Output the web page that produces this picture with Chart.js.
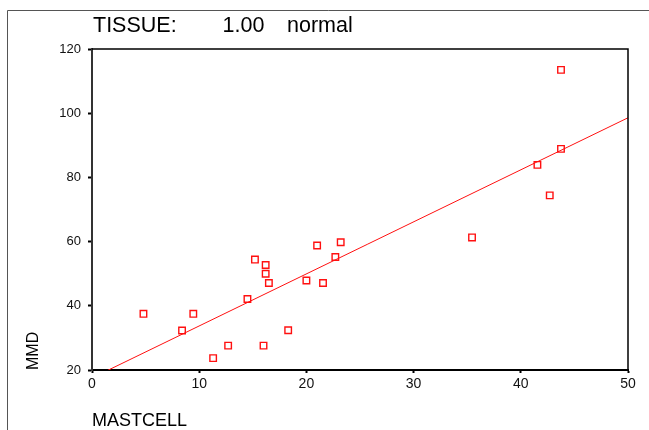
<!DOCTYPE html>
<html>
<head>
<meta charset="utf-8">
<script src="https://cdn.jsdelivr.net/npm/chart.js@4/dist/chart.umd.min.js"></script>
<style>
  html, body { margin: 0; padding: 0; background: #fff; }
  #wrap { position: relative; width: 649px; height: 430px; }
  canvas { display: block; }
</style>
</head>
<body>
<div id="wrap"><canvas id="c" width="649" height="430"></canvas></div>
<script>
// ---- data ----
const mastcell = [4.8, 8.4, 9.45, 11.3, 12.7, 14.5, 15.2, 16.0, 16.2, 16.2, 16.5, 18.3, 20.0, 21.0, 21.55, 22.7, 23.2, 35.45, 41.55, 42.7, 43.75, 43.75];
const mmd      = [37.5, 32.3, 37.5, 23.7, 27.6, 42.1, 54.4, 27.6, 52.7, 50.0, 47.1, 32.4, 47.9, 58.8, 47.1, 55.2, 59.8, 61.3, 83.9, 74.4, 113.5, 88.9];
const xTicks = [0, 10, 20, 30, 40, 50];
const yTicks = [20, 40, 60, 80, 100, 120];
const titleParts = ["TISSUE:", "1.00", "normal"];
const xTitle = "MASTCELL";
const yTitle = "MMD";

// least-squares fit line (as in the reference)
const n = mastcell.length;
const mx = mastcell.reduce((a, b) => a + b, 0) / n;
const my = mmd.reduce((a, b) => a + b, 0) / n;
let sxy = 0, sxx = 0;
for (let i = 0; i < n; i++) { sxy += (mastcell[i] - mx) * (mmd[i] - my); sxx += (mastcell[i] - mx) ** 2; }
const slope = sxy / sxx, intercept = my - slope * mx;
const fitX = [xTicks[0], xTicks[xTicks.length - 1]];
const fitPts = fitX.map(x => ({ x, y: intercept + slope * x }));

const FONT = "'Liberation Sans', Arial, Helvetica, sans-serif";
const RED = '#ff1010';

const decor = {
  id: 'decor',
  beforeDraw(chart) {
    const ctx = chart.ctx;
    ctx.save();
    ctx.strokeStyle = '#555';
    ctx.lineWidth = 1;
    ctx.beginPath();
    ctx.moveTo(7.5, chart.height);
    ctx.lineTo(7.5, 10.5);
    ctx.lineTo(chart.width, 10.5);
    ctx.stroke();
    // title
    ctx.fillStyle = '#000';
    ctx.font = '21.5px ' + FONT;
    ctx.textBaseline = 'alphabetic';
    const xs = [93, 222.5, 287];
    titleParts.forEach((t, i) => ctx.fillText(t, xs[i], 31.5));
    ctx.restore();
  },
  afterDatasetsDraw(chart) {
    const { ctx, chartArea: a } = chart;
    ctx.save();
    ctx.strokeStyle = '#000';
    ctx.lineWidth = 1.5;
    ctx.beginPath();
    ctx.moveTo(a.left, a.top);
    ctx.lineTo(a.right, a.top);
    ctx.lineTo(a.right, a.bottom);
    ctx.stroke();
    ctx.restore();
  }
};

new Chart(document.getElementById('c'), {
  type: 'scatter',
  data: {
    datasets: [
      {
        label: 'MMD',
        data: mastcell.map((x, i) => ({ x, y: mmd[i] })),
        pointStyle: 'rect',
        pointRadius: 4.6,
        pointHoverRadius: 4.6,
        pointBorderWidth: 1.4,
        pointBorderColor: RED,
        pointBackgroundColor: 'rgba(255,255,255,0)',
        order: 1
      },
      {
        type: 'line',
        label: 'fit',
        data: fitPts,
        borderColor: RED,
        borderWidth: 1,
        pointRadius: 0,
        fill: false,
        clip: 0,
        order: 2
      }
    ]
  },
  options: {
    responsive: false,
    animation: false,
    events: [],
    layout: { padding: { left: 0, right: 21, top: 49, bottom: 0 } },
    plugins: { legend: { display: false }, tooltip: { enabled: false }, title: { display: false } },
    scales: {
      x: {
        type: 'linear',
        min: 0, max: 50,
        afterBuildTicks: s => { s.ticks = xTicks.map(v => ({ value: v })); },
        afterFit: s => { s.height = 60; },
        grid: { drawOnChartArea: false, drawTicks: true, tickLength: 3, tickWidth: 2, tickColor: '#000' },
        border: { display: true, color: '#000', width: 2 },
        ticks: { color: '#111', font: { family: FONT, size: 14 }, padding: 3, maxRotation: 0 },
        title: { display: true, text: xTitle, align: 'start', color: '#000', font: { family: FONT, size: 18, lineHeight: 1 }, padding: { top: 0, bottom: 0 } }
      },
      y: {
        type: 'linear',
        min: 20, max: 120,
        afterBuildTicks: s => { s.ticks = yTicks.map(v => ({ value: v })); },
        afterFit: s => { s.width = 92; },
        grid: { drawOnChartArea: false, drawTicks: true, tickLength: 4, tickWidth: 2, tickColor: '#000' },
        border: { display: true, color: '#333', width: 2 },
        ticks: { color: '#111', font: { family: FONT, size: 13 }, padding: 7 },
        title: { display: true, text: yTitle, align: 'start', color: '#000', font: { family: FONT, size: 16, lineHeight: 1 }, padding: { top: 26, bottom: 0 } }
      }
    }
  },
  plugins: [decor]
});
</script>
</body>
</html>
